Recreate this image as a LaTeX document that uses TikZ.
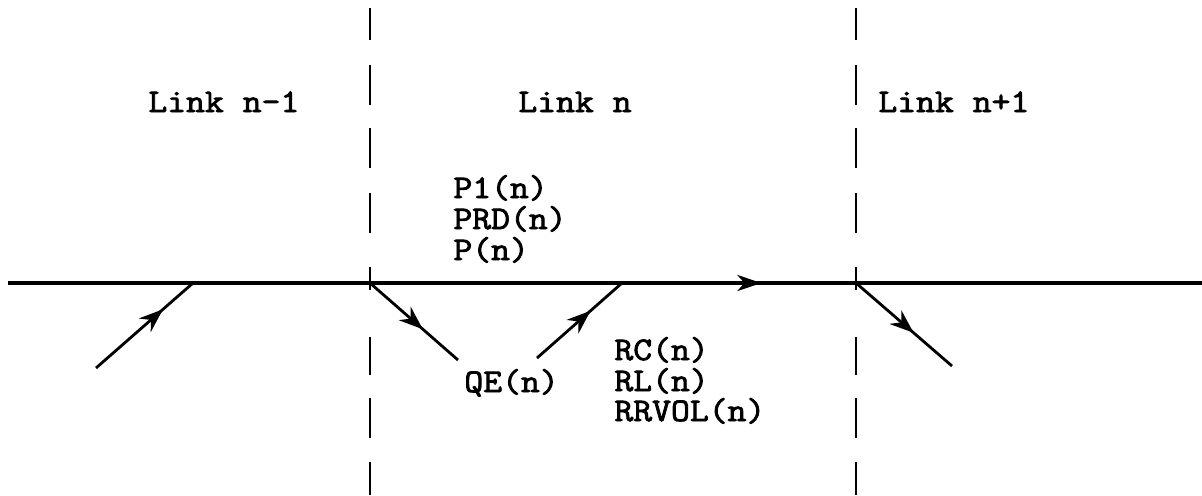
\documentclass[tikz,border=0pt]{standalone}
\usepackage{fontspec}
\setmonofont{Latin Modern Mono}[FakeStretch=1.11,FakeBold=2.5]
\usetikzlibrary{arrows.meta,decorations.markings}
\tikzset{
  lbl/.style={anchor=base west, inner sep=0pt,
    font=\ttfamily\fontsize{16.5}{16.5}\selectfont},
  flow/.style={line width=1.4pt, postaction={decorate},
    decoration={markings, mark=at position #1 with
      {\arrow{Stealth[length=12pt,width=9pt,inset=4pt]}}}},
  mainline/.style={line width=1.6pt},
  sep/.style={line width=1.3pt},
}
\begin{document}
\begin{tikzpicture}[x=0.5pt,y=-0.5pt]
\useasboundingbox (0,0) rectangle (1202,495);

% link boundaries
\foreach \a/\b in {8/40,65/105,128/168,193/233,267/290,337/375,398/438,462/495}{
  \draw[sep] (370,\a) -- (370,\b);
  \draw[sep] (856,\a) -- (856,\b);
}

% link labels
\node[lbl] (l1) at (148,112) {Link n-1};
\node[lbl] (l2) at (518,112) {Link n};
\node[lbl] (l3) at (878,112) {Link n+1};

% main carriageway
\coordinate (west) at (8,283);
\coordinate (east) at (1202,283);
\coordinate (jl) at (370,283);
\coordinate (jr) at (856,283);
\draw[mainline, postaction={decorate},
  decoration={markings, mark=at position 0.631 with
    {\arrow{Stealth[length=12pt,width=8pt,inset=3.5pt]}}}] (west) -- (east);

% ramps
\coordinate (onA) at (96,368);
\coordinate (onAm) at (193,283);
\draw[flow=0.69] (onA) -- (onAm);

\coordinate (offB) at (458,360);
\draw[flow=0.6] (jl) -- (offB);

\coordinate (onC) at (537,358);
\coordinate (onCm) at (622,283);
\draw[flow=0.63] (onC) -- (onCm);

\coordinate (offD) at (952,366);
\draw[flow=0.6] (jr) -- (offD);

% variables
\node[lbl] (p1) at (453,198) {P1(n)};
\node[lbl] (prd) at (453,229) {PRD(n)};
\node[lbl] (p) at (453,260) {P(n)};
\node[lbl] (qe) at (464,392) {QE(n)};
\node[lbl] (rc) at (614,360) {RC(n)};
\node[lbl] (rl) at (614,391) {RL(n)};
\node[lbl] (rr) at (614,421) {RRVOL(n)};
\end{tikzpicture}
\end{document}
